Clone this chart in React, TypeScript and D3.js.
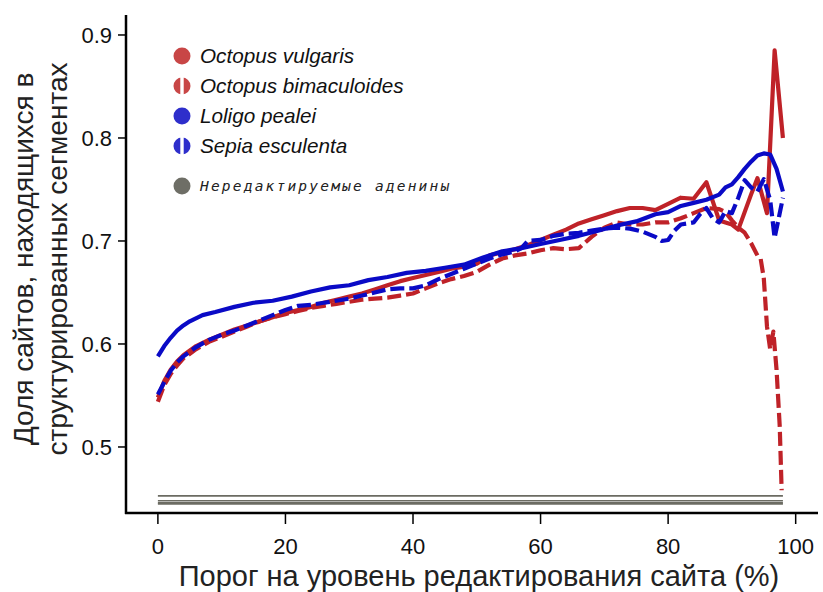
import React from "react";
import * as d3 from "d3";

// Threshold on site editing level (%) and fraction of sites in structured segments
const vulgarisX = [0, 1, 2, 3, 4, 6, 8, 10, 12, 14, 16, 18, 20, 22, 24, 26, 28, 30, 32, 34, 36, 38, 40, 42, 44, 46, 48, 50, 52, 54, 56, 58, 60, 62, 64, 66, 68, 70, 72, 74, 76, 78, 80, 82, 84, 86, 88, 89, 90, 91, 92, 93, 94, 95.5, 96.7, 98];
const vulgarisY = [0.548, 0.564, 0.575, 0.583, 0.589, 0.598, 0.604, 0.609, 0.614, 0.618, 0.622, 0.626, 0.630, 0.633, 0.636, 0.640, 0.643, 0.646, 0.649, 0.653, 0.657, 0.661, 0.664, 0.667, 0.670, 0.673, 0.675, 0.678, 0.686, 0.689, 0.692, 0.696, 0.701, 0.706, 0.711, 0.717, 0.721, 0.725, 0.729, 0.732, 0.732, 0.730, 0.736, 0.742, 0.741, 0.757, 0.720, 0.718, 0.716, 0.711, 0.728, 0.745, 0.761, 0.727, 0.885, 0.800];

const bimaculoidesX = [0, 1, 2, 3, 4, 6, 8, 10, 12, 14, 16, 18, 20, 22, 24, 26, 28, 30, 32, 34, 36, 38, 40, 42, 44, 46, 48, 50, 52, 54, 56, 58, 60, 62, 64, 66, 68, 70, 72, 74, 76, 78, 80, 82, 84, 86, 88, 89, 90, 91, 92, 93, 94, 94.5, 95, 95.5, 96, 96.5, 97, 97.5, 97.8];
const bimaculoidesY = [0.544, 0.560, 0.571, 0.579, 0.586, 0.595, 0.602, 0.607, 0.612, 0.617, 0.622, 0.626, 0.629, 0.632, 0.635, 0.637, 0.639, 0.641, 0.643, 0.644, 0.645, 0.647, 0.649, 0.654, 0.659, 0.663, 0.666, 0.670, 0.677, 0.683, 0.686, 0.688, 0.691, 0.693, 0.692, 0.693, 0.704, 0.713, 0.718, 0.716, 0.716, 0.718, 0.718, 0.722, 0.727, 0.732, 0.731, 0.728, 0.720, 0.713, 0.708, 0.698, 0.686, 0.683, 0.664, 0.617, 0.595, 0.612, 0.575, 0.520, 0.458];

const pealeiX = [0, 1, 2, 3, 4, 5, 7, 9, 12, 15, 18, 21, 24, 27, 30, 33, 36, 39, 42, 45, 48, 51, 54, 57, 60, 63, 66, 69, 72, 75, 78, 80, 82, 84, 86, 88, 89, 90, 91, 92, 93, 94, 95, 96, 97, 98];
const pealeiY = [0.588, 0.598, 0.606, 0.613, 0.618, 0.622, 0.628, 0.631, 0.636, 0.640, 0.642, 0.646, 0.651, 0.655, 0.657, 0.662, 0.665, 0.669, 0.671, 0.674, 0.677, 0.684, 0.690, 0.693, 0.697, 0.701, 0.705, 0.710, 0.715, 0.719, 0.726, 0.728, 0.734, 0.737, 0.740, 0.745, 0.752, 0.755, 0.762, 0.770, 0.777, 0.783, 0.785, 0.784, 0.770, 0.748];

const esculentaX = [0, 1, 2, 3, 4, 6, 8, 10, 12, 14, 16, 18, 20, 22, 24, 26, 28, 30, 32, 34, 36, 38, 40, 42, 44, 46, 48, 50, 52, 54, 56, 57, 58, 60, 62, 64, 66, 68, 70, 72, 74, 76, 78, 79, 80, 81, 82, 84, 85, 86, 87, 88, 89, 90, 91, 92, 93, 94, 95, 96, 96.7, 97.5, 98];
const esculentaY = [0.551, 0.563, 0.574, 0.582, 0.588, 0.597, 0.604, 0.609, 0.613, 0.618, 0.623, 0.628, 0.633, 0.637, 0.638, 0.640, 0.642, 0.644, 0.647, 0.650, 0.653, 0.654, 0.654, 0.657, 0.663, 0.668, 0.673, 0.678, 0.683, 0.687, 0.690, 0.693, 0.700, 0.701, 0.705, 0.707, 0.708, 0.710, 0.712, 0.713, 0.712, 0.709, 0.704, 0.700, 0.701, 0.710, 0.716, 0.718, 0.726, 0.732, 0.722, 0.718, 0.729, 0.727, 0.742, 0.759, 0.752, 0.748, 0.760, 0.740, 0.703, 0.727, 0.742];

// Unedited adenines: flat baselines across the threshold range
const uneditedX = [0, 98];
const uneditedLevels = [0.4525, 0.4478, 0.4458, 0.4448];

const xTicks = [0, 20, 40, 60, 80, 100];
const yTicks = [0.5, 0.6, 0.7, 0.8, 0.9];

const RED = "#bf2228";
const BLUE = "#0a0ac6";
const GRAY = "#6b6b62";

const series = [
  { name: "Octopus vulgaris", xs: vulgarisX, ys: vulgarisY, color: RED, dashed: false },
  { name: "Octopus bimaculoides", xs: bimaculoidesX, ys: bimaculoidesY, color: RED, dashed: true },
  { name: "Loligo pealei", xs: pealeiX, ys: pealeiY, color: BLUE, dashed: false },
  { name: "Sepia esculenta", xs: esculentaX, ys: esculentaY, color: BLUE, dashed: true },
];

const legendDot: Record<string, string> = {
  "Octopus vulgaris": "#c84646",
  "Octopus bimaculoides": "#c84646",
  "Loligo pealei": "#2e2ecb",
  "Sepia esculenta": "#2e2ecb",
};

export default function App() {
  const width = 823;
  const height = 592;
  const x = d3.scaleLinear().domain([-5, 103.5]).range([126, 818]);
  const y = d3.scaleLinear().domain([0.4359, 0.9194]).range([513, 15]);

  const line = d3
    .line<[number, number]>()
    .x((d) => x(d[0]))
    .y((d) => y(d[1]));

  const font = "'Liberation Sans', Arial, sans-serif";

  return (
    <svg width={width} height={height} style={{ position: "absolute", left: 0, top: 0 }}>
      <rect width={width} height={height} fill="#fff" />

      {uneditedLevels.map((lv, i) => (
        <path
          key={"u" + i}
          d={line(uneditedX.map((v) => [v, lv]) as [number, number][]) || ""}
          fill="none"
          stroke={GRAY}
          strokeWidth={1.6}
        />
      ))}

      {series.map((s) => (
        <path
          key={s.name}
          d={line(s.xs.map((v, i) => [v, s.ys[i]]) as [number, number][]) || ""}
          fill="none"
          stroke={s.color}
          strokeWidth={4.2}
          strokeDasharray={s.dashed ? "14,5" : undefined}
          strokeLinejoin="round"
        />
      ))}

      {/* axes */}
      <line x1={126} x2={126} y1={15} y2={514} stroke="#000" strokeWidth={2.5} />
      <line x1={125} x2={818} y1={513} y2={513} stroke="#000" strokeWidth={2.5} />
      {yTicks.map((t) => (
        <g key={"y" + t}>
          <line x1={118} x2={126} y1={y(t)} y2={y(t)} stroke="#000" strokeWidth={1.5} />
          <text x={112} y={y(t)} dy="0.36em" textAnchor="end" fontFamily={font} fontSize={22} fill="#111">
            {t.toFixed(1)}
          </text>
        </g>
      ))}
      {xTicks.map((t) => (
        <g key={"x" + t}>
          <line x1={x(t)} x2={x(t)} y1={513} y2={524} stroke="#000" strokeWidth={1.5} />
          <text x={x(t)} y={554} textAnchor="middle" fontFamily={font} fontSize={22} fill="#111">
            {t}
          </text>
        </g>
      ))}

      <text x={479} y={586} textAnchor="middle" fontFamily={font} fontSize={29} fill="#222">
        Порог на уровень редактирования сайта (%)
      </text>
      <g transform="translate(33,259) rotate(-90)">
        <text x={0} y={0} textAnchor="middle" fontFamily={font} fontSize={28} fill="#222">
          Доля сайтов, находящихся в
        </text>
        <text x={0} y={34} textAnchor="middle" fontFamily={font} fontSize={28} fill="#222">
          структурированных сегментах
        </text>
      </g>

      {/* legend */}
      {series.map((s, i) => {
        const cy = 56 + i * 30;
        const c = legendDot[s.name];
        return (
          <g key={"l" + s.name}>
            <circle cx={182} cy={cy} r={8.5} fill={c} />
            {s.dashed && <rect x={180.3} y={cy - 10} width={3.4} height={20} fill="#fff" />}
            <text x={200} y={cy} dy="0.36em" fontFamily={font} fontSize={20.7} fontStyle="italic" fill="#111">
              {s.name}
            </text>
          </g>
        );
      })}
      <circle cx={182} cy={186} r={8.5} fill="#6e6e66" />
      <text
        x={200}
        y={186}
        dy="0.36em"
        fontFamily="'DejaVu Sans Mono', monospace"
        fontSize={14.5}
        fontStyle="italic"
        letterSpacing={2.2}
        fill="#222"
      >
        Нередактируемые аденины
      </text>
    </svg>
  );
}
